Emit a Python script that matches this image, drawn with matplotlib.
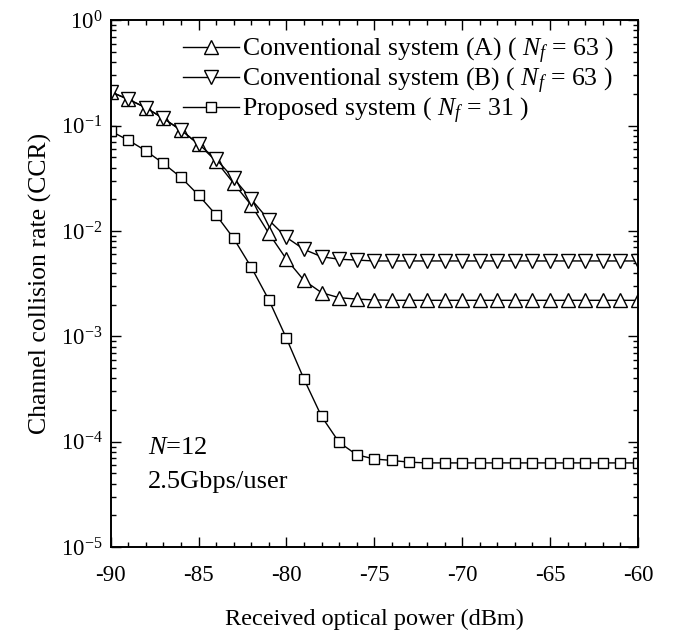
import matplotlib
matplotlib.use("Agg")
import math
import matplotlib.pyplot as plt
from matplotlib.ticker import LogLocator, MultipleLocator, FixedLocator, FuncFormatter, NullFormatter

plt.rcParams['font.family'] = ['Liberation Serif', 'DejaVu Serif']
plt.rcParams['mathtext.fontset'] = 'custom'
plt.rcParams['mathtext.rm'] = 'Liberation Serif'
plt.rcParams['mathtext.it'] = 'Liberation Serif:italic'
plt.rcParams['axes.unicode_minus'] = False

power = list(range(-90, -59))

ccr_conv_a = [0.209, 0.178, 0.148, 0.117, 0.0906, 0.0668, 0.046, 0.0283, 0.0176, 0.0095,
              0.0054, 0.0034, 0.0026, 0.00233, 0.00226, 0.00222, 0.0022, 0.0022, 0.0022, 0.0022,
              0.0022, 0.0022, 0.0022, 0.0022, 0.0022, 0.0022, 0.0022, 0.0022, 0.0022, 0.0022, 0.0022]

ccr_conv_b = [0.209, 0.178, 0.148, 0.117, 0.0906, 0.0668, 0.048, 0.0316, 0.020, 0.0127,
              0.0087, 0.0067, 0.0057, 0.0054, 0.0053, 0.0052, 0.0052, 0.0052, 0.0052, 0.0052,
              0.0052, 0.0052, 0.0052, 0.0052, 0.0052, 0.0052, 0.0052, 0.0052, 0.0052, 0.0052, 0.0052]

ccr_proposed = [0.0887, 0.0729, 0.0577, 0.0438, 0.0323, 0.0219, 0.0142, 0.0085, 0.00453, 0.00222,
                0.00096, 0.000393, 0.000174, 0.0000986, 0.0000753, 0.0000686, 0.0000665, 0.000064,
                0.000063, 0.000063, 0.000063, 0.000063, 0.000063, 0.000063, 0.000063, 0.000063,
                0.000063, 0.000063, 0.000063, 0.000063, 0.000063]

labels = ["Conventional system (A) ( $N_f$ = 63 )",
          "Conventional system (B) ( $N_f$ = 63 )",
          "Proposed system ( $N_f$ = 31 )"]

x_ticks = [-90, -85, -80, -75, -70, -65, -60]
y_exps = [0, -1, -2, -3, -4, -5]

fig = plt.figure(figsize=(6.75, 6.34), dpi=100)
ax = fig.add_axes([0.164, 0.137, 0.781, 0.831])

ax.plot(power, ccr_conv_a, '-', color='black', lw=1.0, marker='^', ms=10,
        mfc='white', mec='black', mew=1.0, label=labels[0])
ax.plot(power, ccr_conv_b, '-', color='black', lw=1.0, marker='v', ms=10,
        mfc='white', mec='black', mew=1.0, label=labels[1])
ax.plot(power, ccr_proposed, '-', color='black', lw=1.0, marker='s', ms=7,
        mfc='white', mec='black', mew=1.0, label=labels[2])

ax.set_yscale('log')
ax.set_xlim(-90, -60)
ax.set_ylim(1e-5, 1)
ax.xaxis.set_major_locator(FixedLocator(x_ticks))
ax.xaxis.set_minor_locator(MultipleLocator(1))
ax.yaxis.set_major_locator(FixedLocator([10.0 ** e for e in y_exps]))
ax.yaxis.set_minor_locator(LogLocator(base=10, subs=range(2, 10), numticks=20))
ax.yaxis.set_minor_formatter(NullFormatter())

def yfmt(v, pos):
    e = int(round(math.log10(v)))
    return "$10^{%d}$" % e
ax.yaxis.set_major_formatter(FuncFormatter(yfmt))

ax.tick_params(which='both', direction='in', top=True, right=True, width=1.0)
ax.tick_params(which='major', length=7, labelsize=16.5)
ax.tick_params(axis='x', which='major', pad=13)
ax.tick_params(axis='y', which='major', pad=6)
ax.tick_params(which='minor', length=3.6)
for s in ax.spines.values():
    s.set_linewidth(1.4)

ax.set_xlabel("Received optical power (dBm)", fontsize=17.5, labelpad=16)
ax.set_ylabel("Channel collision rate (CCR)", fontsize=18.5, labelpad=6)

leg = ax.legend(loc='upper left', bbox_to_anchor=(0.107, 1.0), frameon=False, fontsize=18.5,
                handlelength=2.2, handletextpad=0.11, labelspacing=0.0, borderaxespad=0.2)

ax.text(0.07, 0.188, "$N$=12", transform=ax.transAxes, fontsize=19, va='center', ha='left')
ax.text(0.07, 0.123, "2.5Gbps/user", transform=ax.transAxes, fontsize=19, va='center', ha='left')

fig.savefig("out.png", dpi=100)
